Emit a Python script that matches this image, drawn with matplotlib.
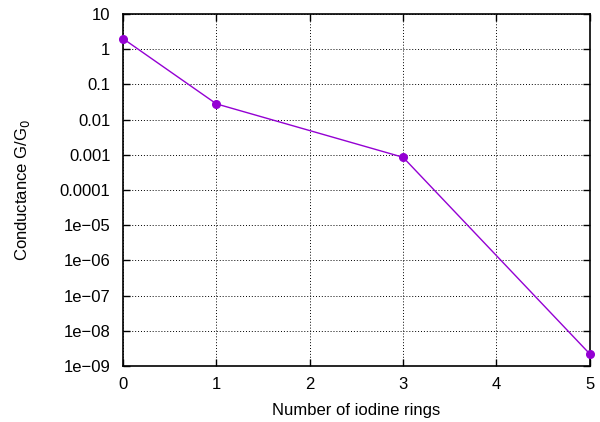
import numpy as np
import matplotlib.pyplot as plt
import matplotlib as mpl

mpl.rcParams['font.family'] = ['Liberation Sans', 'DejaVu Sans']

rings = [0, 1, 3, 5]
conductance = [2.0, 0.028, 0.00085, 2.2e-9]
y_ticks = [1e-9, 1e-8, 1e-7, 1e-6, 1e-5, 1e-4, 1e-3, 1e-2, 1e-1, 1, 10]
y_labels = ['1e\u221209', '1e\u221208', '1e\u221207', '1e\u221206', '1e\u221205',
            '0.0001', '0.001', '0.01', '0.1', '1', '10']
x_ticks = [0, 1, 2, 3, 4, 5]


def main():
    fig = plt.figure(figsize=(6, 4.22), dpi=100)
    ax = fig.add_axes([0.205, 0.1327, 0.778, 0.8341])
    ax.plot(rings, conductance, color='#9400D3', linewidth=1, marker='o',
            markersize=5.5, clip_on=False, zorder=3)
    ax.set_yscale('log')
    ax.set_xlim(0, 5)
    ax.set_ylim(1e-9, 10)
    ax.set_xticks(x_ticks)
    ax.set_yticks(y_ticks)
    ax.set_yticklabels(y_labels)
    ax.yaxis.set_minor_locator(mpl.ticker.NullLocator())
    ax.tick_params(direction='in', length=5, width=1, labelsize=12,
                   top=True, right=True)
    ax.tick_params(axis='y', pad=9)
    ax.tick_params(axis='x', pad=8)
    ax.grid(True, color='black', linestyle=(0, (1, 2)), linewidth=0.7)
    for s in ax.spines.values():
        s.set_linewidth(1.2)
    ax.set_xlabel('Number of iodine rings', fontsize=12, labelpad=8)
    ax.set_ylabel('Conductance G/G$_0$', fontsize=12, labelpad=20)
    fig.savefig('out.png', dpi=100)


if __name__ == '__main__':
    main()
